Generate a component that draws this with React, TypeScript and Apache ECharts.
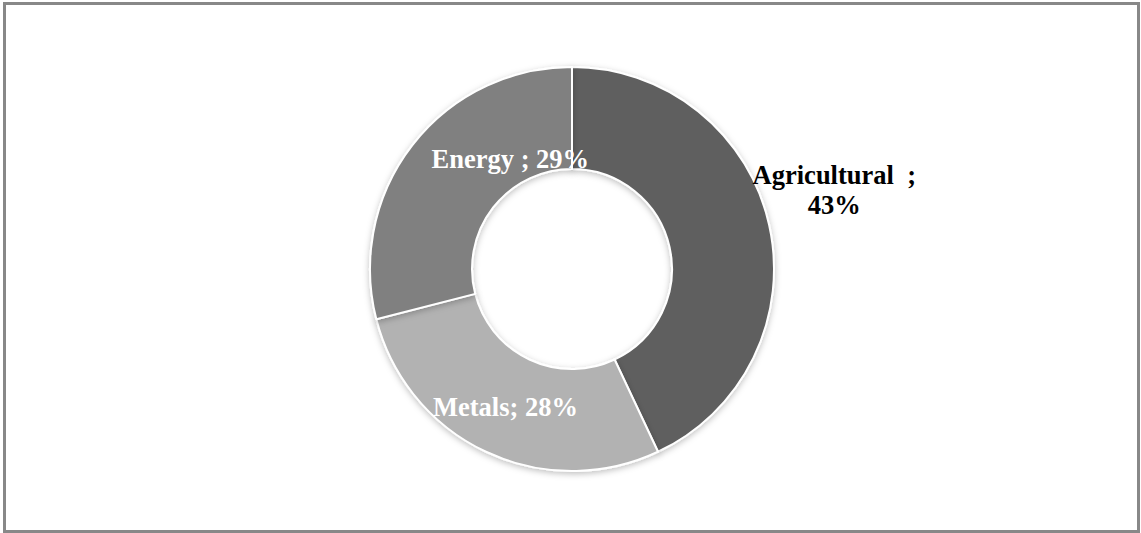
import React, { useEffect, useRef } from "react";
import * as echarts from "echarts";

const categories = ["Agricultural  ;\n43%", "Metals; 28%", "Energy ; 29%"];
const shares = [43, 28, 29];
const sliceColors = ["#5f5f5f", "#b2b2b2", "#808080"];
const labelColors = ["#000000", "#ffffff", "#ffffff"];
const labelShift = [
  [112, -45],
  [-1, -1],
  [60, -16],
];

export default function App() {
  const ref = useRef<HTMLDivElement>(null);
  useEffect(() => {
    if (!ref.current) return;
    const chart = echarts.init(ref.current, null, { renderer: "svg" });
    chart.setOption({
      animation: false,
      backgroundColor: "#ffffff",
      graphic: [
        {
          type: "rect",
          shape: { x: 4.5, y: 3.5, width: 1134, height: 528 },
          style: { fill: "none", stroke: "#888888", lineWidth: 3 },
          silent: true,
        },
      ],
      series: [
        {
          type: "pie",
          center: [572, 269],
          radius: [100, 202],
          startAngle: 90,
          clockwise: true,
          avoidLabelOverlap: false,
          itemStyle: {
            borderColor: "#ffffff",
            borderWidth: 2,
            shadowBlur: 6,
            shadowColor: "rgba(0,0,0,0.25)",
            shadowOffsetY: 2,
          },
          label: {
            show: true,
            position: "inside",
            fontFamily: "Liberation Serif",
            fontWeight: "bold",
            fontSize: 26.5,
            lineHeight: 30,
            align: "center",
            formatter: (p: any) => p.name,
          },
          labelLine: { show: false },
          labelLayout: (p: any) => ({
            dx: labelShift[p.dataIndex][0],
            dy: labelShift[p.dataIndex][1],
          }),
          emphasis: { disabled: true },
          data: categories.map((name, i) => ({
            name,
            value: shares[i],
            itemStyle: { color: sliceColors[i] },
            label: { color: labelColors[i] },
          })),
        },
      ],
    });
    return () => chart.dispose();
  }, []);
  return (
    <div
      ref={ref}
      style={{ position: "fixed", left: 0, top: 0, width: 1141, height: 533 }}
    />
  );
}
